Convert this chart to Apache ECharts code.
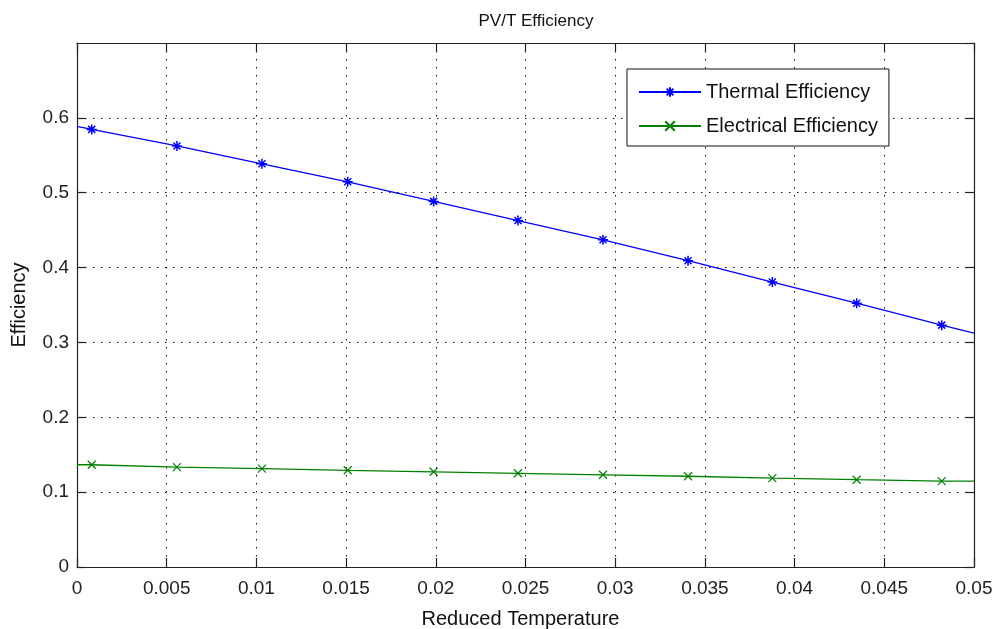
<!DOCTYPE html>
<html>
<head>
<meta charset="utf-8">
<script src="https://cdn.jsdelivr.net/npm/echarts@6/dist/echarts.min.js"></script>
<style>
	html, body { margin: 0; padding: 0; background: #fff; }
	#main { width: 996px; height: 629px; }
</style>
</head>
<body>
<div id="main"></div>
<script>
// reduced temperature where markers are drawn
var xMarkers = [0.00082, 0.00557, 0.01031, 0.01509, 0.01988, 0.02458, 0.02932, 0.03406, 0.03876, 0.04346, 0.04820];
var thermalEff = [0.5846, 0.5625, 0.5386, 0.5146, 0.4884, 0.4628, 0.4371, 0.4092, 0.3807, 0.3524, 0.3231];
var electricalEff = [0.1366, 0.1334, 0.1315, 0.1292, 0.1272, 0.1252, 0.1232, 0.1212, 0.1188, 0.1166, 0.1148];
// line ends (no marker)
var xEnds = [0, 0.05];
var thermalEnds = [0.5887, 0.3125];
var electricalEnds = [0.1366, 0.1148];

var fontName = 'Liberation Sans';

function buildData(ys, ends) {
	var res = [];
	res.push({ value: [xEnds[0], ends[0]], symbol: 'none' });
	for (var i = 0; i < xMarkers.length; i++) {
		res.push({ value: [xMarkers[i], ys[i]] });
	}
	res.push({ value: [xEnds[1], ends[1]], symbol: 'none' });
	return res;
}

var starPath = 'path://M5,0L5,10M0,5L10,5M1.5,1.5L8.5,8.5M8.5,1.5L1.5,8.5';
var crossPath = 'path://M0,0L10,10M10,0L0,10';

var gridLine = {
	show: true,
	lineStyle: { color: '#111', width: 1, type: [1.5, 6.5] }
};
var frameLine = { show: true, onZero: false, lineStyle: { color: '#222', width: 1.2 } };
var inTick = { show: true, inside: true, length: 9, lineStyle: { color: '#222', width: 1.2 } };

var myChart = echarts.init(document.getElementById('main'));

var option = {
	animation: false,
	backgroundColor: '#fff',
	title: {
		text: 'PV/T Efficiency',
		left: 531,
		textAlign: 'center',
		top: 8,
		textStyle: { color: '#111', fontFamily: fontName, fontSize: 17, fontWeight: 'normal' }
	},
	legend: {
		orient: 'vertical',
		left: 627,
		top: 69,
		padding: [13, 11, 10, 11],
		itemGap: 14,
		itemWidth: 62,
		itemHeight: 12,
		itemTextGap: 7,
		backgroundColor: '#fff',
		borderColor: '#111',
		borderWidth: 1,
		borderRadius: 0,
		textStyle: { color: '#111', fontFamily: fontName, fontSize: 20, lineHeight: 20 },
		data: ['Thermal Efficiency', 'Electrical Efficiency']
	},
	grid: { left: 77, right: 22, top: 43, bottom: 62, outerBoundsMode: 'none' },
	xAxis: [{
		type: 'value',
		min: 0,
		max: 0.05,
		interval: 0.005,
		name: 'Reduced Temperature',
		nameLocation: 'middle',
		nameGap: 42,
		nameTextStyle: { color: '#111', fontFamily: fontName, fontSize: 20, padding: [0, 10, 0, 0] },
		axisLine: frameLine,
		axisTick: inTick,
		axisLabel: { color: '#222', fontFamily: fontName, fontSize: 19, margin: 12 },
		splitLine: gridLine
	}, {
		type: 'value',
		position: 'top',
		min: 0,
		max: 0.05,
		interval: 0.005,
		axisLine: frameLine,
		axisTick: inTick,
		axisLabel: { show: false },
		splitLine: { show: false }
	}],
	yAxis: [{
		type: 'value',
		min: 0,
		max: 0.7,
		interval: 0.1,
		name: 'Efficiency',
		nameLocation: 'middle',
		nameGap: 48,
		nameTextStyle: { color: '#111', fontFamily: fontName, fontSize: 20 },
		axisLine: frameLine,
		axisTick: inTick,
		axisLabel: {
			color: '#222', fontFamily: fontName, fontSize: 19, margin: 8,
			showMaxLabel: false,
			formatter: function (v) { return v > 0.65 ? '' : String(+v.toFixed(2)); }
		},
		splitLine: gridLine
	}, {
		type: 'value',
		position: 'right',
		min: 0,
		max: 0.7,
		interval: 0.1,
		axisLine: frameLine,
		axisTick: inTick,
		axisLabel: { show: false },
		splitLine: { show: false }
	}],
	series: [{
		name: 'Thermal Efficiency',
		type: 'line',
		xAxisIndex: 0,
		yAxisIndex: 0,
		data: buildData(thermalEff, thermalEnds),
		symbol: starPath,
		symbolSize: 10,
		showAllSymbol: true,
		lineStyle: { color: '#0000ff', width: 1.3 },
		itemStyle: { color: '#0000ff', borderColor: '#0000ff', borderWidth: 1.5 }
	}, {
		name: 'Electrical Efficiency',
		type: 'line',
		xAxisIndex: 0,
		yAxisIndex: 0,
		data: buildData(electricalEff, electricalEnds),
		symbol: crossPath,
		symbolSize: 8,
		showAllSymbol: true,
		lineStyle: { color: '#008000', width: 1.3 },
		itemStyle: { color: '#008000', borderColor: '#008000', borderWidth: 1.2 }
	}]
};

myChart.setOption(option);
</script>
</body>
</html>
